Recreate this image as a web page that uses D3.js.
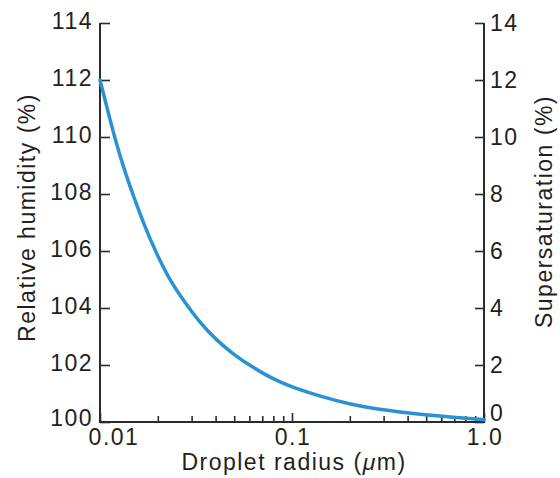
<!DOCTYPE html>
<html>
<head>
<meta charset="utf-8">
<script src="https://cdn.jsdelivr.net/npm/d3@7"></script>
<style>
  html, body { margin: 0; padding: 0; background: #fff; }
  svg text { font-family: "Liberation Sans", Arial, Helvetica, sans-serif; fill: #231f20; letter-spacing: 1.5px; }
</style>
</head>
<body>
<svg id="chart" width="560" height="478"></svg>
<script>
// Data
const radius = [0.01, 0.011, 0.0119, 0.0133, 0.0148, 0.017, 0.0197, 0.023, 0.027, 0.033, 0.04, 0.05, 0.063, 0.08, 0.1, 0.14, 0.2, 0.3, 0.45, 0.7, 1.0];
const relHumidity = [112, 110.9, 110.0, 108.9, 108.0, 106.9, 105.9, 105.0, 104.3, 103.5, 102.9, 102.35, 101.9, 101.5, 101.22, 100.9, 100.62, 100.42, 100.27, 100.16, 100.08];
const leftTicks = [100, 102, 104, 106, 108, 110, 112, 114];
const rightTicks = [0, 2, 4, 6, 8, 10, 12, 14];
const xMajorTicks = [0.01, 0.1, 1.0];
const xMajorLabels = ["0.01", "0.1", "1.0"];

(function () {
const svg = d3.select("#chart");
const pL = 100, pR = 484, pT = 23, pB = 422;
const fs = 23;
const axisColor = "#2b2b2b";

const x = d3.scaleLog().domain([0.01, 1]).range([pL, pR]);
const yL = d3.scaleLinear().domain([100, 114]).range([pB, pT]);
const yR = d3.scaleLinear().domain([0, 14]).range([pB, pT]);

// minor ticks
const minor = [];
for (let d = 0.01; d < 0.5; d *= 10) {
  for (let k = 2; k <= 9; k++) minor.push(+(d * k).toPrecision(3));
}

// X axis (ticks inward = upward)
const gx = svg.append("g").attr("transform", `translate(0,${pB})`);
gx.call(d3.axisTop(x).tickValues(minor).tickSize(6).tickFormat(""));
gx.select(".domain").remove();
const gx2 = svg.append("g").attr("transform", `translate(0,${pB})`);
gx2.call(d3.axisTop(x).tickValues(xMajorTicks).tickSize(9).tickFormat(""));
gx2.select(".domain").remove();
svg.selectAll("g .tick line").attr("stroke", axisColor).attr("stroke-width", 1.6);

// X tick labels
svg.append("g").selectAll("text").data(xMajorTicks).join("text")
  .attr("x", (d, i) => x(d) + (i === 0 ? 14 : 1))
  .attr("y", pB + 23)
  .attr("text-anchor", "middle")
  .attr("font-size", fs)
  .text((d, i) => xMajorLabels[i]);

// Left axis (ticks inward = right)
const gl = svg.append("g").attr("transform", `translate(${pL},0)`);
gl.call(d3.axisRight(yL).tickValues(leftTicks).tickSize(10).tickFormat(""));
gl.select(".domain").remove();
gl.selectAll(".tick line").attr("stroke", axisColor).attr("stroke-width", 1.6);
svg.append("g").selectAll("text").data(leftTicks).join("text")
  .attr("x", pL - 7)
  .attr("y", d => yL(d) - (d === 100 ? 4 : 2))
  .attr("dy", "0.36em")
  .attr("text-anchor", "end")
  .attr("font-size", fs)
  .text(d => d);

// Right axis (ticks inward = left)
const gr = svg.append("g").attr("transform", `translate(${pR},0)`);
gr.call(d3.axisLeft(yR).tickValues(rightTicks).tickSize(9).tickFormat(""));
gr.select(".domain").remove();
gr.selectAll(".tick line").attr("stroke", axisColor).attr("stroke-width", 1.6);
svg.append("g").selectAll("text").data(rightTicks).join("text")
  .attr("x", pR + 6)
  .attr("y", d => yR(d) - (d === 0 ? 9 : 0))
  .attr("dy", "0.36em")
  .attr("text-anchor", "start")
  .attr("font-size", fs)
  .text(d => d);

// Frame lines (left, bottom, right)
svg.append("path")
  .attr("d", `M${pL},${pT}V${pB}H${pR}V${pT}`)
  .attr("fill", "none")
  .attr("stroke", axisColor)
  .attr("stroke-width", 2);

// Curve
const line = d3.line()
  .x((d, i) => x(radius[i]))
  .y(d => yL(d))
  .curve(d3.curveBasis);
svg.append("path")
  .datum(relHumidity)
  .attr("d", line)
  .attr("fill", "none")
  .attr("stroke", "#2a92d3")
  .attr("stroke-width", 3.5)
  .attr("stroke-linecap", "round");

// Axis titles
svg.append("text")
  .attr("transform", `translate(35,${(92 + 343) / 2}) rotate(-90)`)
  .attr("text-anchor", "middle")
  .attr("font-size", fs)
  .text("Relative humidity (%)");

svg.append("text")
  .attr("transform", `translate(552,${(100 + 323) / 2}) rotate(-90)`)
  .attr("text-anchor", "middle")
  .attr("font-size", fs)
  .text("Supersaturation (%)");

const xt = svg.append("text")
  .attr("x", 294)
  .attr("y", 470)
  .attr("text-anchor", "middle")
  .attr("font-size", fs);
xt.append("tspan").text("Droplet radius (");
xt.append("tspan").attr("font-style", "italic").text("\u03bc");
xt.append("tspan").text("m)");
})();
</script>
</body>
</html>
